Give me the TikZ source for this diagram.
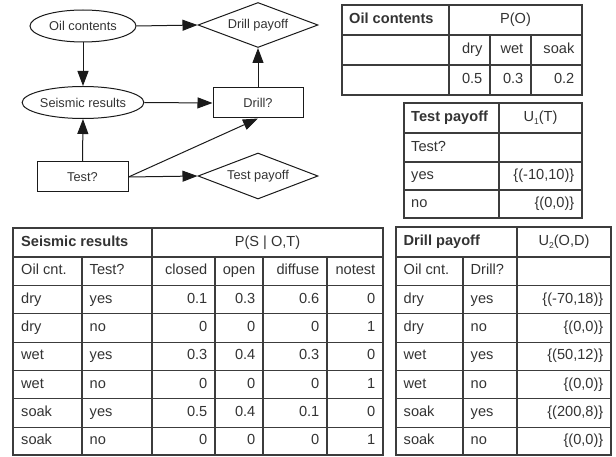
\documentclass[tikz,border=0pt]{standalone}
\usepackage{fontspec}
\setmainfont{Liberation Sans}
\usetikzlibrary{shapes.geometric,arrows.meta}
\definecolor{ink}{HTML}{333333}
\definecolor{edgec}{HTML}{1A1A1A}
\definecolor{rulec}{HTML}{3C3C3C}
\newcommand{\lowsub}[1]{\raisebox{-2.5pt}{\fontsize{8.5}{9}\selectfont #1}}
\begin{document}
\begin{tikzpicture}[x=1pt,y=-1pt,
  gfont/.style={font=\fontsize{12.8}{15}\selectfont, text=ink},
  tfont/.style={font=\fontsize{14.6}{17}\selectfont, text=ink, inner sep=0pt, text height=10.5pt, text depth=3pt},
  ell/.style={ellipse, draw=edgec, line width=1pt, minimum width=106pt, minimum height=32pt, inner sep=0pt, gfont},
  boxn/.style={rectangle, draw=edgec, line width=1pt, minimum width=90pt, minimum height=30pt, inner sep=0pt, gfont},
  dia/.style={diamond, draw=edgec, line width=1pt, minimum width=120pt, minimum height=45pt, aspect=2.6, inner sep=0pt, gfont},
  arr/.style={-{Triangle[length=15pt,width=11pt]}, line width=1pt, draw=edgec},
  rl/.style={draw=rulec, line width=1.1pt},
  cl/.style={tfont, anchor=west},
  cr/.style={tfont, anchor=east},
  cc/.style={tfont, anchor=center},
  hd/.style={tfont, anchor=west, font=\fontsize{14.6}{17}\selectfont\bfseries}
]
\useasboundingbox (0,0) rectangle (616,457);

% ---------- graph ----------
\node[ell] (oil) at (83,26) {Oil contents};
\node[dia] (dpay) at (258,25) {Drill payoff};
\node[ell] (seis) at (83,102.5) {Seismic results};
\node[boxn] (drill) at (258,103) {Drill?};
\node[boxn, minimum width=91pt] (test) at (82.5,177) {Test?};
\node[dia, minimum height=46pt] (tpay) at (258,176) {Test payoff};

\draw[arr] (oil.east) -- (dpay.west);
\draw[arr] (oil.south) -- (seis.north);
\draw[arr] (seis.east) -- (drill.west);
\draw[arr] (drill.north) -- (dpay.south);
\draw[arr] (test.north) -- (seis.south);
\draw[arr] (test.east) -- (tpay.west);
\draw[arr] (test.east) -- (drill.south);

% ---------- Oil contents table ----------
\draw[rl] (342,5) rectangle (582,95);
\draw[rl] (342,35) -- (582,35) (342,65) -- (582,65)
          (449,5) -- (449,95) (490,35) -- (490,95) (531,35) -- (531,95);
\node[hd] (oh) at (349,20) {Oil contents};
\node[cc] (op) at (515.5,20) {P(O)};
\node[cr] (o1) at (482.5,50) {dry};
\node[cr] (o2) at (523.5,50) {wet};
\node[cr] (o3) at (574.5,50) {soak};
\node[cr] (o4) at (482.5,80) {0.5};
\node[cr] (o5) at (523.5,80) {0.3};
\node[cr] (o6) at (574.5,80) {0.2};

% ---------- Test payoff table ----------
\draw[rl] (404,103) rectangle (582,218);
\draw[rl] (404,133) -- (582,133) (404,162) -- (582,162) (404,190) -- (582,190)
          (499,103) -- (499,218);
\node[hd] (th) at (411,118) {Test payoff};
\node[cc] (tu) at (540.5,118) {U\lowsub{1}(T)};
\node[cl] (t1) at (411,147.5) {Test?};
\node[cl] (t2) at (411,176) {yes};
\node[cr] (t3) at (574.5,176) {\{(-10,10)\}};
\node[cl] (t4) at (411,204) {no};
\node[cr] (t5) at (574.5,204) {\{(0,0)\}};

% ---------- Seismic results table ----------
\draw[rl] (13,228) rectangle (383,455);
\foreach \yy in {257,285.4,313.7,342.1,370.4,398.7,427.1}
  \draw[rl] (13,\yy) -- (383,\yy);
\draw[rl] (152,228) -- (152,455);
\foreach \xx in {82,215,263,327}
  \draw[rl] (\xx,257) -- (\xx,455);
\node[hd] (sh) at (21,242.5) {Seismic results};
\node[cc] (sp) at (267.5,242.5) {P(S | O,T)};
\node[cl] (sc1) at (21,271) {Oil cnt.};
\node[cl] (sc2) at (89.5,271) {Test?};
\node[cr] (sc3) at (207.5,271) {closed};
\node[cr] (sc4) at (255.5,271) {open};
\node[cr] (sc5) at (319.5,271) {diffuse};
\node[cr] (sc6) at (375.5,271) {notest};
\foreach \o/\t/\a/\b/\c/\d [count=\i] in
  {dry/yes/0.1/0.3/0.6/0, dry/no/0/0/0/1, wet/yes/0.3/0.4/0.3/0,
   wet/no/0/0/0/1, soak/yes/0.5/0.4/0.1/0, soak/no/0/0/0/1} {
  \pgfmathsetmacro\yy{299.5+28.3*(\i-1)}
  \node[cl] (so\i) at (21,\yy) {\o};
  \node[cl] (st\i) at (89.5,\yy) {\t};
  \node[cr] (sa\i) at (207.5,\yy) {\a};
  \node[cr] (sb\i) at (255.5,\yy) {\b};
  \node[cr] (sx\i) at (319.5,\yy) {\c};
  \node[cr] (sd\i) at (375.5,\yy) {\d};
}

% ---------- Drill payoff table ----------
\draw[rl] (396,227) rectangle (611,455);
\foreach \yy in {257,285.4,313.7,342.1,370.4,398.7,427.1}
  \draw[rl] (396,\yy) -- (611,\yy);
\draw[rl] (517,227) -- (517,455);
\draw[rl] (463,257) -- (463,455);
\node[hd] (dh) at (403.5,242) {Drill payoff};
\node[cc] (du) at (564,242) {U\lowsub{2}(O,D)};
\node[cl] (dc1) at (403.5,271) {Oil cnt.};
\node[cl] (dc2) at (470.5,271) {Drill?};
\foreach \o/\t/\v [count=\i] in
  {dry/yes/{\{(-70,18)\}}, dry/no/{\{(0,0)\}}, wet/yes/{\{(50,12)\}},
   wet/no/{\{(0,0)\}}, soak/yes/{\{(200,8)\}}, soak/no/{\{(0,0)\}}} {
  \pgfmathsetmacro\yy{299.5+28.3*(\i-1)}
  \node[cl] (do\i) at (403.5,\yy) {\o};
  \node[cl] (dd\i) at (470.5,\yy) {\t};
  \node[cr] (dv\i) at (603.5,\yy) {\v};
}
\end{tikzpicture}
\end{document}
